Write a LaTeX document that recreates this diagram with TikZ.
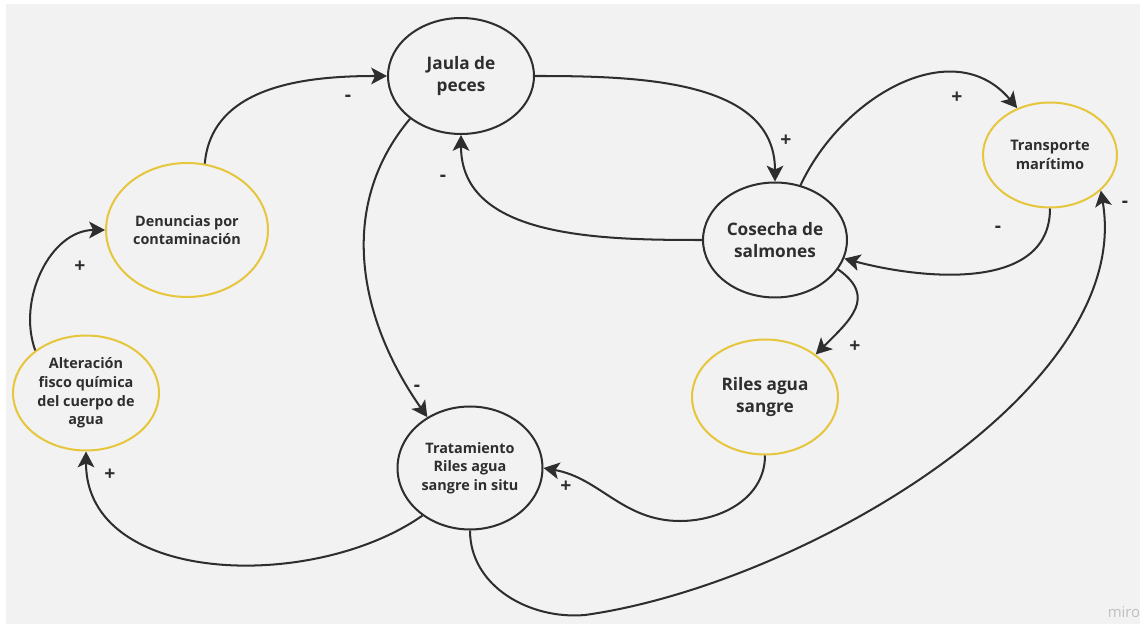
\documentclass[tikz,border=0pt]{standalone}
\usepackage{fontspec}
\setmainfont{Open Sans}
\usetikzlibrary{shapes.geometric,arrows.meta}
\definecolor{fondo}{HTML}{F2F2F2}
\definecolor{tinta}{HTML}{2E2E2E}
\definecolor{amarillo}{HTML}{E6C63C}

\begin{document}
\begin{tikzpicture}[x = .02cm, y = -.02cm,
  var/.style = {ellipse, draw = tinta, line width = 1.15pt, inner sep = 0pt, align = center, text = tinta, font = \bfseries\fontsize{8.2}{10.6}\selectfont},
  var_ext/.style = {var, draw = amarillo},
  grande/.style = {font = \bfseries\fontsize{9.8}{12.4}\selectfont},
  flecha/.style = {-{Stealth[length = 9pt, width = 9.5pt, inset = 2.2pt]}, line width = 1.15pt, draw = tinta},
  signo/.style = {text = tinta, font = \bfseries\fontsize{11}{12}\selectfont}]
\useasboundingbox (0,0) rectangle (1143,624);
\fill[fondo] (6,4) rectangle (1140,624);

% variables
\node[var, grande, minimum width = 2.92cm, minimum height = 2.32cm] (jaula) at (461,76) {Jaula de\\peces};
\node[var, grande, minimum width = 2.88cm, minimum height = 2.30cm] (cosecha) at (775,240) {Cosecha de\\salmones};
\node[var_ext, minimum width = 2.68cm, minimum height = 2.10cm, font = \bfseries\fontsize{8.3}{10.4}\selectfont] (transporte) at (1050,155) {Transporte\\marítimo};
\node[var_ext, minimum width = 3.24cm, minimum height = 2.68cm] (denuncias) at (187,230) {Denuncias por\\contaminación};
\node[var_ext, minimum width = 2.92cm, minimum height = 2.30cm] (alteracion) at (86,393) {Alteración\\fisco química\\del cuerpo de\\agua};
\node[var, minimum width = 2.90cm, minimum height = 2.46cm] (tratamiento) at (470,468) {Tratamiento\\Riles agua\\sangre in situ};
\node[var_ext, grande, minimum width = 2.92cm, minimum height = 2.30cm] (riles) at (765,397) {Riles agua\\sangre};

% enlaces
\draw[flecha] (denuncias.75) to[out = 85, in = 180] (jaula.180);
\draw[flecha] (jaula.0) to[out = 0, in = 90] (cosecha.90);
\draw[flecha] (cosecha.180) to[out = 180, in = -90] (jaula.270);
\draw[flecha] (cosecha.65) to[out = 65, in = 130, looseness = 1.1] (transporte.125);
\draw[flecha] (transporte.270) to[out = -90, in = -15] (cosecha.-15);
\draw[flecha] (cosecha.-25) to[out = -35, in = 45, looseness = 1.4] (riles.40);
\coordinate (riles_bajo) at (680,521);
\draw[flecha] (riles.270) to[out = -90, in = 0] (riles_bajo) to[out = 180, in = -10] (tratamiento.0);
\draw[flecha] (jaula.220) to[out = 230, in = 125] (tratamiento.130);
\draw[flecha] (tratamiento.225) to[out = 215, in = -90] (alteracion.270);
\draw[flecha] (alteracion.140) to[out = 110, in = 180] (denuncias.180);
\coordinate (fondo_bajo) at (585,615);
\draw[flecha] (tratamiento.270) to[out = -90, in = 185] (fondo_bajo) .. controls (800,585) and (1135,390) .. (transporte.-35);

% signos
\node[signo] (s_den_jau) at (348,98) {-};
\node[signo] (s_jau_cos) at (786,141) {+};
\node[signo] (s_cos_jau) at (443,178) {-};
\node[signo] (s_cos_tra) at (957,98) {+};
\node[signo] (s_tra_cos) at (998,229) {-};
\node[signo] (s_fon_tra) at (1125,204) {-};
\node[signo] (s_cos_ril) at (855,347) {+};
\node[signo] (s_ril_trt) at (566,487) {+};
\node[signo] (s_jau_trt) at (417,388) {-};
\node[signo] (s_trt_alt) at (110,475) {+};
\node[signo] (s_alt_den) at (80,267) {+};

\node[text = black!25, font = \fontsize{8.5}{9}\selectfont] (marca) at (1124,612) {miro};
\end{tikzpicture}
\end{document}
